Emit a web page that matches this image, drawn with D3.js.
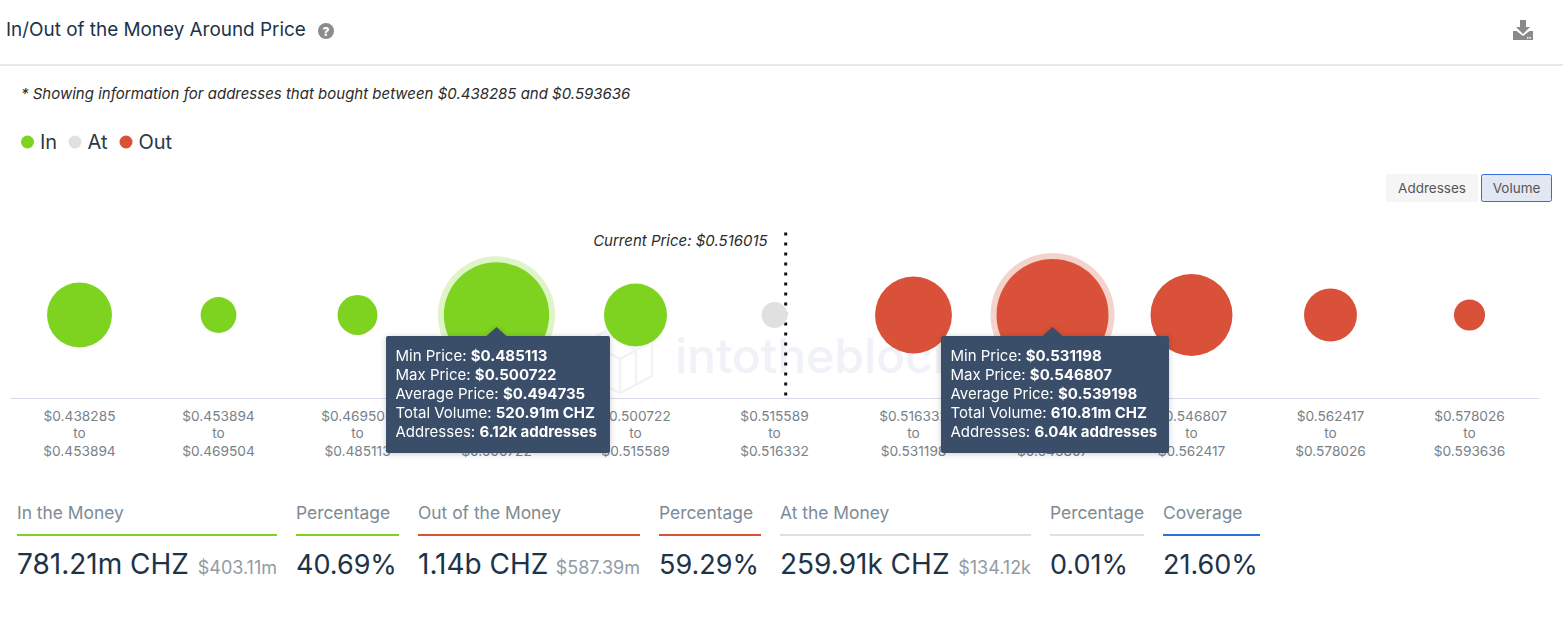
<!DOCTYPE html>
<html>
<head>
<meta charset="utf-8">
<title>In/Out of the Money Around Price</title>
<script src="https://d3js.org/d3.v7.min.js"></script>
<style>
  html, body { margin: 0; padding: 0; background: #fff; overflow: hidden; }
  svg { display: block; font-family: Inter, "Noto Sans", sans-serif; }
  .axis path { stroke: #d5dbe6; }
  .axis text { font-family: Inter, sans-serif; font-size: 13.7px; fill: #78828a; }
  .tip { filter: drop-shadow(0 1px 3px rgba(0,0,0,0.2)); }
</style>
</head>
<body>
<svg id="chart" width="1563" height="629"></svg>

<script>
  // data
  var lowPrices = ["$0.438285", "$0.453894", "$0.469504", "$0.485113", "$0.500722", "$0.515589", "$0.516332", "$0.531198", "$0.546807", "$0.562417", "$0.578026"];
  var highPrices = ["$0.453894", "$0.469504", "$0.485113", "$0.500722", "$0.515589", "$0.516332", "$0.531198", "$0.546807", "$0.562417", "$0.578026", "$0.593636"];
  var volumes = [132, 11, 20, 520.91, 120, 0.26, 221, 610.81, 265, 66, 4]; // millions of CHZ
  var states = ["In", "In", "In", "In", "In", "At", "Out", "Out", "Out", "Out", "Out"];
  var currentPrice = 0.516015;
  var atBand = [0.515589, 0.516332];

  var legendItems = ["In", "At", "Out"];

  var tooltips = [
    {index: 3, left: -110.5, width: 224, rows: [["Min Price:", "$0.485113"], ["Max Price:", "$0.500722"], ["Average Price:", "$0.494735"], ["Total Volume:", "520.91m CHZ"], ["Addresses:", "6.12k addresses"]]},
    {index: 7, left: -111.5, width: 228, rows: [["Min Price:", "$0.531198"], ["Max Price:", "$0.546807"], ["Average Price:", "$0.539198"], ["Total Volume:", "610.81m CHZ"], ["Addresses:", "6.04k addresses"]]}
  ];

  var summary = [
    {label: "In the Money", value: "781.21m CHZ", usd: "$403.11m", color: "#7ed321", x: 17, w: 260},
    {label: "Percentage", value: "40.69%", color: "#7ed321", x: 296, w: 103},
    {label: "Out of the Money", value: "1.14b CHZ", usd: "$587.39m", color: "#d95138", x: 418, w: 222},
    {label: "Percentage", value: "59.29%", color: "#d95138", x: 659, w: 102},
    {label: "At the Money", value: "259.91k CHZ", usd: "$134.12k", color: "#e0e0e0", x: 780, w: 251},
    {label: "Percentage", value: "0.01%", color: "#e0e0e0", x: 1050, w: 94},
    {label: "Coverage", value: "21.60%", color: "#2f6fe0", x: 1163, w: 97}
  ];

  var colors = {In: "#7ed321", At: "#e0e0e0", Out: "#d95138"};
  var dark = "#1d3347";

  var svg = d3.select("#chart");

  // header
  svg.append("text").attr("x", 6).attr("y", 35.5)
    .attr("font-size", 18.9).attr("fill", dark)
    .text("In/Out of the Money Around Price");

  svg.append("circle").attr("cx", 326).attr("cy", 31).attr("r", 8).attr("fill", "#8c8c8c");
  svg.append("text").attr("x", 326).attr("y", 35.5).attr("text-anchor", "middle")
    .attr("font-size", 12).attr("font-weight", 800).attr("fill", "#fff").text("?");

  // download icon
  var dl = svg.append("g").attr("transform", "translate(1513,20)").attr("fill", "#8a8a8a");
  dl.append("path").attr("d", "M7 0h6v7h4l-7 7-7-7h4z");
  dl.append("path").attr("d", "M0 11h3.5l6.5 5 6.5-5H20v9H0z");
  dl.append("rect").attr("x", 14).attr("y", 17).attr("width", 1.5).attr("height", 1.5).attr("fill", "#fff");
  dl.append("rect").attr("x", 16.5).attr("y", 17).attr("width", 1.5).attr("height", 1.5).attr("fill", "#fff");

  svg.append("line").attr("x1", 0).attr("x2", 1563).attr("y1", 65).attr("y2", 65)
    .attr("stroke", "#e8e8e8").attr("stroke-width", 2);

  svg.append("text").attr("x", 21).attr("y", 99)
    .attr("font-size", 15).attr("font-style", "italic").attr("fill", "#2b2b2b")
    .text("* Showing information for addresses that bought between $0.438285 and $0.593636");

  // legend
  var legendX = d3.scaleOrdinal().domain(legendItems).range([27.5, 75, 126]);
  var legend = svg.selectAll(".legend").data(legendItems).enter().append("g")
    .attr("class", "legend")
    .attr("transform", function(d) {return "translate(" + legendX(d) + ",142)";});
  legend.append("circle").attr("r", 6.5).attr("fill", function(d) {return colors[d];});
  legend.append("text").attr("x", 12.5).attr("y", 7)
    .attr("font-size", 20).attr("fill", "#2b3a45")
    .text(function(d) {return d;});

  // buttons
  svg.append("rect").attr("x", 1386).attr("y", 174).attr("width", 92).attr("height", 28).attr("rx", 2).attr("fill", "#f5f5f5");
  svg.append("text").attr("x", 1432).attr("y", 193).attr("text-anchor", "middle")
    .attr("font-size", 13.5).attr("fill", "#555").text("Addresses");
  svg.append("rect").attr("x", 1481.5).attr("y", 174.5).attr("width", 70).attr("height", 27).attr("rx", 2)
    .attr("fill", "#e1e7f3").attr("stroke", "#2f6fe0");
  svg.append("text").attr("x", 1516.5).attr("y", 193).attr("text-anchor", "middle")
    .attr("font-size", 13.5).attr("fill", "#555").text("Volume");

  // watermark
  var mark = svg.append("g").attr("fill", "none").attr("stroke", "#f1f3f7").attr("stroke-width", 2.5);
  mark.append("path").attr("d", "M620 323l32 18v35l-32 17-32-17v-35z");
  mark.append("path").attr("d", "M588 341l32 18 32-18M620 359v34M604 332l32 18v35");
  svg.append("text").attr("x", 675).attr("y", 373)
    .attr("font-size", 48).attr("font-weight", 500).attr("fill", "#f0f2f7")
    .text("intotheblock");

  // scales
  var chartCenter = 315, baseline = 398;
  var x = d3.scaleBand().domain(d3.range(volumes.length)).range([10, 1539]);
  var r = d3.scaleSqrt().domain([0, d3.max(volumes)]).range([12, 56]);

  var axis = d3.axisBottom(x).tickSize(0).tickPadding(10).tickFormat(function() {return "";});
  var axisG = svg.append("g").attr("class", "axis")
    .attr("transform", "translate(0," + baseline + ")").call(axis);

  axisG.selectAll(".tick text").each(function(i) {
    var t = d3.select(this).text(null).attr("y", 17).attr("dy", null);
    [lowPrices[i], "to", highPrices[i]].forEach(function(line, k) {
      t.append("tspan").attr("x", 0).attr("y", 22.5 + k * 17.8).text(line);
    });
  });

  // current price marker, under the bubbles
  var priceX = d3.scaleLinear().domain(atBand).range([x(5) + 1, x(5) + 1 + x.bandwidth()]);
  svg.append("line")
    .attr("x1", priceX(currentPrice)).attr("x2", priceX(currentPrice))
    .attr("y1", 232.5).attr("y2", baseline)
    .attr("stroke", "#111").attr("stroke-width", 3).attr("stroke-dasharray", "3 7");
  svg.append("text").attr("x", priceX(currentPrice) - 18).attr("y", 246).attr("text-anchor", "end")
    .attr("font-size", 15).attr("font-style", "italic").attr("fill", "#2b2b2b")
    .text("Current Price: $" + currentPrice);

  // halo on the bubbles with a tooltip
  var hoverIndex = tooltips.map(function(d) {return d.index;});
  svg.selectAll(".halo").data(hoverIndex).enter().append("circle")
    .attr("class", "halo")
    .attr("cx", function(i) {return x(i) + x.bandwidth() / 2;})
    .attr("cy", chartCenter)
    .attr("r", function(i) {return r(volumes[i]) + 6;})
    .attr("fill", function(i) {return colors[states[i]];})
    .attr("opacity", 0.25);

  svg.selectAll(".bubble").data(volumes).enter().append("circle")
    .attr("class", "bubble")
    .attr("cx", function(d, i) {return x(i) + x.bandwidth() / 2;})
    .attr("cy", chartCenter)
    .attr("r", function(d) {return r(d);})
    .attr("fill", function(d, i) {return colors[states[i]];});

  // tooltips
  var tip = svg.selectAll(".tip").data(tooltips).enter().append("g")
    .attr("class", "tip")
    .attr("transform", function(d) {return "translate(" + (x(d.index) + x.bandwidth() / 2) + ",336)";});
  tip.append("rect")
    .attr("x", function(d) {return d.left;}).attr("y", 0)
    .attr("width", function(d) {return d.width;}).attr("height", 117).attr("rx", 2)
    .attr("fill", "#3a4d69");
  tip.append("path").attr("d", "M-10 0L0 -9L10 0z").attr("fill", "#3a4d69");
  tip.each(function(d) {
    var g = d3.select(this);
    d.rows.forEach(function(row, k) {
      var t = g.append("text").attr("x", d.left + 9.5).attr("y", 24.5 + k * 19)
        .attr("font-size", 15).attr("fill", "#fff");
      t.append("tspan").text(row[0] + " ");
      t.append("tspan").attr("font-weight", 700).text(row[1]);
    });
  });

  // summary row
  var cell = svg.selectAll(".cell").data(summary).enter().append("g").attr("class", "cell")
    .attr("transform", function(d) {return "translate(" + d.x + ",0)";});
  cell.append("text").attr("y", 519).attr("font-size", 17.4).attr("fill", "#7d8b96")
    .text(function(d) {return d.label;});
  cell.append("rect").attr("y", 534).attr("height", 2)
    .attr("width", function(d) {return d.w;})
    .attr("fill", function(d) {return d.color;});
  cell.append("text").attr("y", 574).attr("font-size", function(d) {return d.usd ? 28 : 27;}).attr("fill", dark)
    .text(function(d) {return d.value;});
  cell.filter(function(d) {return d.usd;}).append("text")
    .attr("x", function(d) {return d.w;}).attr("y", 574).attr("text-anchor", "end")
    .attr("font-size", 18).attr("fill", "#919ba4")
    .text(function(d) {return d.usd;});
</script>
</body>
</html>
